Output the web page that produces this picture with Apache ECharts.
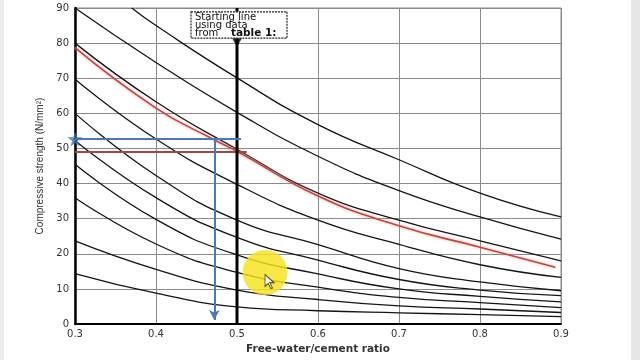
<!DOCTYPE html>
<html>
<head>
<meta charset="utf-8">
<script src="https://cdn.jsdelivr.net/npm/echarts@6/dist/echarts.min.js"></script>
<style>html,body{margin:0;padding:0;background:#fff;}#c{width:640px;height:360px;}</style>
</head>
<body>
<div id="c"></div>
<script>
// free-water/cement ratio positions where curves were read
const wcRatio = [0.3, 0.4, 0.5, 0.6, 0.7, 0.8, 0.9];
// family of strength curves (N/mm²) read at each ratio
const curveA = [null, 85, 70.1, 56.8, 46.8, 37.3, 30.5];
const curveAStart = [0.37, 90];
const curveB = [90, 74.5, 60.3, 47.8, 38.0, 30.5, 24.2];
const curveC = [80, 63.3, 49.8, 37.3, 29.6, 23.7, 18.0];
const curveD = [69.7, 52.7, 39.8, 29.6, 22.7, 16.9, 13.3];
const curveE = [60, 42.3, 29.6, 22.6, 15.8, 12.0, 9.5];
const curveF = [52.3, 36.0, 24.7, 18.2, 12.7, 9.7, 8.1];
const curveG = [45.5, 29.8, 19.7, 14.3, 10.0, 7.9, 6.3];
const curveH = [36.0, 22.8, 14.7, 10.5, 7.6, 6.1, 4.7];
const curveI = [23.7, 15.6, 9.7, 7.0, 5.2, 4.3, 3.3];
const curveJ = [14.4, 8.8, 4.9, 3.8, 3.2, 2.7, 2.1];
// hand-drawn red curve
const redX = [0.3, 0.4, 0.47, 0.5, 0.6, 0.7, 0.8, 0.893];
const redY = [78.7, 61.5, 52.7, 49.2, 36.5, 28.0, 21.9, 16.2];
// construction lines
const redLevel = 49.0, redLineEnd = 0.512;
const blueLevel = 52.7, blueLineEnd = 0.505, blueDropX = 0.472, blueDropEnd = 1.2;
const startLineX = 0.5, startArrowY = 80.2;
const highlight = [0.5346, 14.7];
const cursorTip = [0.5346, 14.1];

const chart = echarts.init(document.getElementById('c'));

function curveSeries(vals, start) {
  const data = [];
  if (start) data.push(start);
  wcRatio.forEach((x, i) => { if (vals[i] != null) data.push([x, vals[i]]); });
  return {
    type: 'line', data, symbol: 'none', smooth: 0.5,
    lineStyle: { color: '#141414', width: 1.3 }, z: 3, silent: true
  };
}

const curves = [[curveA, curveAStart], [curveB], [curveC], [curveD], [curveE],
  [curveF], [curveG], [curveH], [curveI], [curveJ]];

const series = curves.map(c => curveSeries(c[0], c[1]));

// red hand-drawn curve
series.push({
  type: 'line', data: redX.map((x, i) => [x, redY[i]]), symbol: 'none', smooth: 0.5,
  lineStyle: { color: '#c2453c', width: 1.6, shadowColor: 'rgba(240,150,150,0.9)', shadowBlur: 3 }, z: 4
});
// red horizontal
series.push({
  type: 'line', data: [[0.3, redLevel], [redLineEnd, redLevel]], symbol: 'none',
  lineStyle: { color: '#a8463f', width: 2 }, z: 4
});
// starting line at 0.5
series.push({
  type: 'line', data: [[startLineX, 0], [startLineX, 90]], symbol: 'none',
  lineStyle: { color: '#000', width: 3 }, z: 5
});
series.push({
  type: 'scatter', data: [[startLineX, startArrowY]], symbol: 'triangle', symbolRotate: 180,
  symbolSize: [10, 9], itemStyle: { color: '#000' }, z: 6
});
// blue construction
series.push({
  type: 'line', data: [[0.3, blueLevel], [blueLineEnd, blueLevel]], symbol: 'none',
  lineStyle: { color: '#4a78b8', width: 2 }, z: 7,
  markLine: {
    silent: true, symbol: ['none', 'arrow'], symbolSize: [8, 10],
    label: { show: false },
    lineStyle: { color: '#4a78b8', width: 2, type: 'solid' },
    data: [[{ coord: [blueDropX, blueLevel] }, { coord: [blueDropX, blueDropEnd] }]]
  }
});
series.push({
  type: 'scatter', data: [[0.3, blueLevel]],
  symbol: 'path://M50,0 L61,35 L98,35 L68,57 L79,91 L50,70 L21,91 L32,57 L2,35 L39,35 Z',
  symbolSize: 15, itemStyle: { color: '#3f6db0' }, z: 8
});
// mouse highlight
series.push({
  type: 'scatter', data: [highlight], symbol: 'circle', symbolSize: 45,
  itemStyle: { color: '#f6e31c', opacity: 0.82 }, z: 9
});
series.push({
  type: 'scatter', data: [cursorTip],
  symbol: 'path://M0,0 L0,16 L4,12 L7,19 L9,18 L6,11 L11,11 Z',
  symbolSize: [9, 14], symbolOffset: [4.5, 7], symbolKeepAspect: false,
  itemStyle: { color: '#fff', borderColor: '#222', borderWidth: 1 }, z: 10
});

chart.setOption({
  animation: false,
  backgroundColor: '#fff',
  grid: { left: 75, right: 79, top: 8, bottom: 21, show: true, borderColor: '#8a8a8a', borderWidth: 1 },
  xAxis: {
    type: 'value', min: 0.3, max: 0.9, interval: 0.1,
    name: 'Free-water/cement ratio', nameLocation: 'middle', nameGap: 15,
    nameTextStyle: { fontFamily: 'DejaVu Sans', fontSize: 10.5, fontWeight: 'bold', color: '#333' },
    axisLine: { show: true, lineStyle: { color: '#000', width: 2 } },
    axisTick: { show: false },
    axisLabel: { margin: 5, fontFamily: 'DejaVu Sans', fontSize: 10, color: '#333',
      formatter: v => v.toFixed(1) },
    splitLine: { show: true, lineStyle: { color: '#8a8a8a', width: 1 } }
  },
  yAxis: {
    type: 'value', min: 0, max: 90, interval: 10,
    name: 'Compressive strength (N/mm²)', nameLocation: 'middle', nameGap: 30,
    nameTextStyle: { fontFamily: 'Liberation Sans', fontSize: 10, color: '#333' },
    axisLine: { show: true, lineStyle: { color: '#000', width: 2.5 } },
    axisTick: { show: false },
    axisLabel: { margin: 6, fontFamily: 'DejaVu Sans', fontSize: 10, color: '#333' },
    splitLine: { show: true, lineStyle: { color: '#8a8a8a', width: 1 } }
  },
  series
});

// annotation box anchored on the starting line
const pTop = chart.convertToPixel({ gridIndex: 0 }, [startLineX, 88.9]);
const pBot = chart.convertToPixel({ gridIndex: 0 }, [startLineX, 81.4]);
const bx = pTop[0] - 46, bw = 96, by = pTop[1], bh = pBot[1] - pTop[1];
const txt = (t, dx, dy, f) => ({ type: 'text', x: bx + dx, y: by + dy, z: 101,
  style: { text: t, font: f, fill: '#111', verticalAlign: 'middle', align: 'left' } });
chart.setOption({
  graphic: [
    { type: 'rect', shape: { x: 0, y: 0, width: 4, height: 360 }, style: { fill: '#ececec' }, z: 0 },
    { type: 'rect', shape: { x: 631, y: 0, width: 9, height: 360 }, style: { fill: '#e6e6e6' }, z: 0 },
    { type: 'rect', shape: { x: bx, y: by, width: bw, height: bh },
      style: { fill: '#fff', stroke: '#222', lineWidth: 1.2, lineDash: [2, 1] }, z: 100 },
    txt('Starting line', 4, 6, '10px "DejaVu Sans"'),
    txt('using data', 4, 14, '10px "DejaVu Sans"'),
    txt('from', 4, 22, '10px "DejaVu Sans"'),
    txt('table 1:', 40, 21, 'bold 10.5px "DejaVu Sans"')
  ]
});
</script>
</body>
</html>
